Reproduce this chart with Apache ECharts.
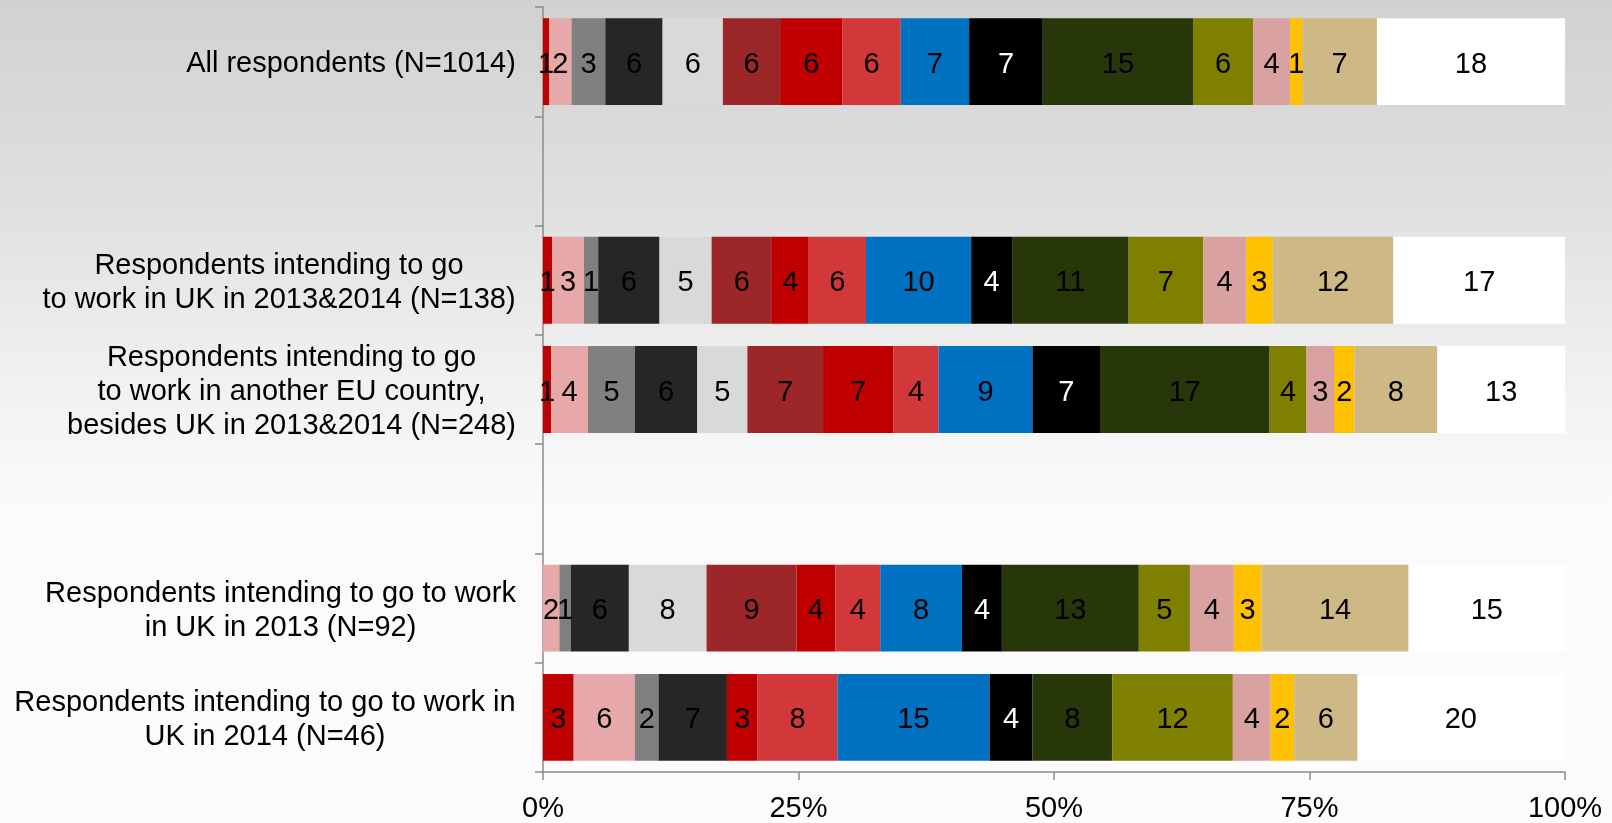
<!DOCTYPE html>
<html>
<head>
<meta charset="utf-8">
<script src="https://cdn.jsdelivr.net/npm/echarts@6/dist/echarts.min.js"></script>
<style>
html,body{margin:0;padding:0;}
#chart{width:1612px;height:823px;}
</style>
</head>
<body>
<div id="chart"></div>
<script>
// Category labels (top to bottom); two empty slots are blank rows in the original chart
const categories = [
  'All respondents (N=1014)',
  '',
  'Respondents intending to go\nto work in UK in 2013&2014 (N=138)',
  'Respondents intending to go\nto work in another EU country,\nbesides UK in 2013&2014 (N=248)',
  ' ',
  'Respondents intending to go to work\nin UK in 2013 (N=92)',
  'Respondents intending to go to work in\nUK in 2014 (N=46)'
];

// Percent shares of the 16 answer segments, per row
const rowAll    = [0.6, 2.2, 3.3, 5.6, 5.9, 5.6, 6.1, 5.7, 6.7, 7.2, 14.7, 5.9, 3.6, 1.2, 7.3, 18.4];
const rowUK1314 = [0.9, 3.1, 1.4, 6.0, 5.1, 5.9, 3.6, 5.6, 10.3, 4.0, 11.4, 7.3, 4.2, 2.6, 11.8, 16.8];
const rowEU1314 = [0.8, 3.6, 4.6, 6.1, 4.9, 7.4, 6.9, 4.4, 9.2, 6.6, 16.6, 3.6, 2.7, 2.0, 8.1, 12.5];
const rowUK13   = [0, 1.6, 1.1, 5.7, 7.6, 8.8, 3.8, 4.4, 8.0, 3.9, 13.4, 5.0, 4.3, 2.7, 14.4, 15.3];
const rowUK14   = [3.0, 6.0, 2.3, 6.7, 0, 0, 3.0, 7.8, 14.9, 4.2, 7.8, 11.8, 3.7, 2.3, 6.2, 20.2];

const rows = [rowAll, null, rowUK1314, rowEU1314, null, rowUK13, rowUK14];

// x axis
const xMin = 0, xMax = 100, xStep = 25;

// styles
const segColors = ['#C00000','#E6A8A8','#808080','#262626','#D9D9D9','#9C2628','#C00000','#D2383A',
                   '#0070C0','#000000','#273709','#808000','#DAA1A1','#FFC000','#CEB886','#FFFFFF'];
const labelColors = segColors.map(c => c === '#000000' ? '#FFFFFF' : '#000000');
const FONT = '"Liberation Sans", Arial, sans-serif';
const FS = 29;

// measure label lines so multi-line labels are centred within their block
const ctx = document.createElement('canvas').getContext('2d');
ctx.font = FS + 'px "Liberation Sans"';
const rich = {};
categories.forEach((c, i) => {
  const w = Math.max(...c.split('\n').map(l => ctx.measureText(l).width));
  rich['c' + i] = {width: Math.ceil(w) + 2, align: 'center', fontSize: FS, fontFamily: FONT, color: '#000', lineHeight: 34};
});

const series = segColors.map((col, i) => ({
  name: 'S' + (i + 1),
  type: 'bar',
  stack: 'total',
  barWidth: '79.5%',
  data: rows.map(r => r ? r[i] : 0),
  itemStyle: {color: col},
  label: {
    show: true,
    position: 'inside',
    offset: [0, 3],
    color: labelColors[i],
    fontSize: FS,
    fontFamily: FONT,
    formatter: p => (p.value ? String(Math.round(p.value)) : '')
  },
  emphasis: {disabled: true},
  animation: false
}));

const chart = echarts.init(document.getElementById('chart'));
chart.setOption({
  animation: false,
  backgroundColor: {
    type: 'linear', x: 0, y: 0, x2: 0, y2: 1,
    colorStops: [
      {offset: 0, color: '#D1D1D1'},
      {offset: 0.25, color: '#E0E0E0'},
      {offset: 0.45, color: '#F0F0F0'},
      {offset: 0.6, color: '#FBF9FA'},
      {offset: 1, color: '#FDFBFC'}
    ]
  },
  grid: {left: 543, right: 47, top: 7, bottom: 49, containLabel: false},
  xAxis: {
    type: 'value', min: xMin, max: xMax, interval: xStep,
    axisLine: {show: true, lineStyle: {color: '#8C8C8C', width: 1.5}},
    axisTick: {show: true, length: 8, lineStyle: {color: '#8C8C8C', width: 1.5}},
    splitLine: {show: false},
    axisLabel: {formatter: '{value}%', fontSize: FS, fontFamily: FONT, color: '#000', margin: 22}
  },
  yAxis: {
    type: 'category', inverse: true, data: categories,
    axisLine: {show: true, lineStyle: {color: '#8C8C8C', width: 1.5}},
    axisTick: {show: true, length: 8, lineStyle: {color: '#8C8C8C', width: 1.5}},
    splitLine: {show: false},
    axisLabel: {
      margin: 26, fontSize: FS, fontFamily: FONT, color: '#000', lineHeight: 34, interval: 0,
      padding: [5, 0, 0, 0],
      formatter: (value, index) => value.trim() === '' ? '' :
        value.split('\n').map(l => '{c' + index + '|' + l + '}').join('\n'),
      rich: rich
    }
  },
  series: series
});
</script>
</body>
</html>
